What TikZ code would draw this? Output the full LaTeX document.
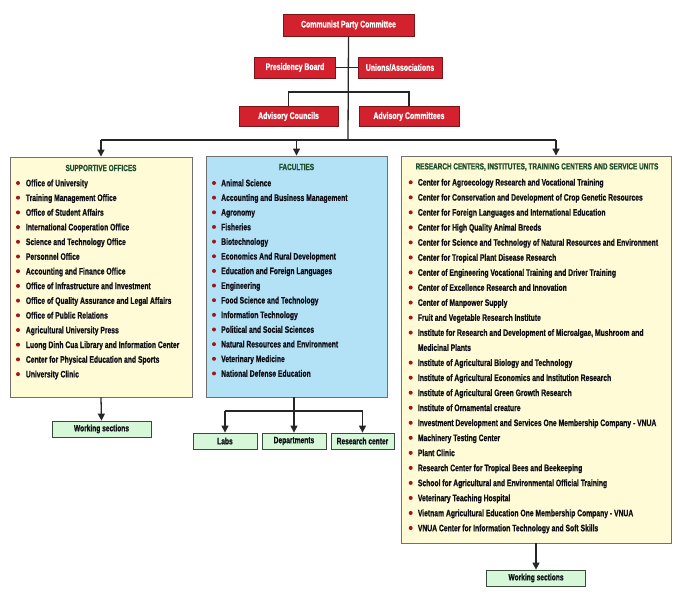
\documentclass[tikz,border=0pt]{standalone}
\usepackage{fontspec}
\setmainfont{Liberation Sans}[FakeStretch=0.72, BoldFeatures={FakeBold=0.8}]
\usetikzlibrary{arrows.meta}
\definecolor{redfill}{HTML}{D3222E}
\definecolor{reddark}{HTML}{7A1418}
\definecolor{greenfill}{HTML}{D6F7D8}
\definecolor{greendark}{HTML}{3A4A3A}
\definecolor{yellowfill}{HTML}{FFFBD6}
\definecolor{bluefill}{HTML}{B3E2F6}
\definecolor{panelline}{HTML}{707070}
\definecolor{titlegreen}{HTML}{1F4F2E}
\definecolor{itemtext}{HTML}{101018}
\definecolor{bulletred}{HTML}{A3141C}
\begin{document}
\begin{tikzpicture}[x=1pt,y=-1pt,
 redbox/.style={draw=reddark, line width=0.8pt, fill=redfill, text=white, font=\bfseries\fontsize{9.6}{11}\selectfont, inner sep=0pt},
 greenbox/.style={draw=greendark, line width=0.8pt, fill=greenfill, text=itemtext, font=\bfseries\fontsize{9.2}{10}\selectfont, inner sep=0pt, minimum height=16pt},
 panel/.style={draw=panelline, line width=0.9pt, inner sep=0pt},
 title/.style={text=titlegreen, font=\bfseries\fontsize{8.9}{10}\selectfont, inner sep=0pt},
 item/.style={anchor=base west, text=itemtext, font=\bfseries\fontsize{9.4}{10}\selectfont, inner sep=0pt},
 conn/.style={line width=1.3pt, draw=black!85},
 arr/.style={conn, -{Triangle[width=7pt,length=7pt]}}]
\useasboundingbox (0,0) rectangle (680,597);
\fill[white] (0,0) rectangle (680,597);

% top red boxes
\node[redbox, minimum width=131pt, minimum height=22pt] (cpc) at (348.5,25) {Communist Party Committee};
\node[redbox, minimum width=81pt, minimum height=21pt] (pb) at (295,67.5) {Presidency Board};
\node[redbox, minimum width=84pt, minimum height=21pt] (ua) at (400,67.5) {Unions/Associations};
\node[redbox, minimum width=99pt, minimum height=20pt] (ac) at (288.5,116.5) {Advisory Councils};
\node[redbox, minimum width=100pt, minimum height=20pt] (acm) at (409,116.5) {Advisory Committees};

% panels
\node[panel, fill=yellowfill, minimum width=182pt, minimum height=240pt] (sup) at (101,277) {};
\node[panel, fill=bluefill, minimum width=181pt, minimum height=241pt] (fac) at (296.5,276.5) {};
\node[panel, fill=yellowfill, minimum width=270pt, minimum height=387pt] (res) at (536,349.5) {};

% bottom green boxes
\node[greenbox, minimum width=99pt] (wsL) at (101.5,429) {Working sections};
\node[greenbox, minimum width=64pt] (labs) at (225,441) {Labs};
\node[greenbox, minimum width=64pt] (dep) at (294,441) {Departments};
\node[greenbox, minimum width=63pt] (rc) at (362.5,441) {Research center};
\node[greenbox, minimum width=99pt] (wsR) at (536,578) {Working sections};

% coordinates
\coordinate (hub) at (348,140);
\coordinate (hubL) at (101,140);
\coordinate (hubM) at (296.5,140);
\coordinate (hubR) at (556,140);
\coordinate (advL) at (288.5,92);
\coordinate (advR) at (409,92);
\coordinate (facB) at (294,411);
\coordinate (facL) at (225,411);
\coordinate (facR) at (362.5,411);

% connectors
\draw[conn] (cpc.south) -- (hub);
\draw[conn] (pb.east) -- (ua.west);
\draw[conn] (ac.north) -- (advL) -- (advR) -- (acm.north);
\draw[conn] (hubL) -- (hubR);
\draw[arr] (hubL) -- (sup.north);
\draw[arr] (hubM) -- (fac.north);
\draw[arr] (hubR) -- (res.north -| hubR);
\draw[arr] (sup.south) -- (wsL.north);
\draw[conn] (fac.south -| facB) -- (facB);
\draw[conn] (facL) -- (facR);
\draw[arr] (facL) -- (labs.north);
\draw[arr] (facB) -- (dep.north);
\draw[arr] (facR) -- (rc.north);
\draw[arr] (res.south) -- (wsR.north);

% titles
\node[title] (supT) at (101,168) {SUPPORTIVE OFFICES};
\node[title] (facT) at (296.5,167) {FACULTIES};
\node[title] (resT) at (537,167) {RESEARCH CENTERS, INSTITUTES, TRAINING CENTERS AND SERVICE UNITS};

% left items
\foreach \t [count=\i from 0] in {Office of University, Training Management Office, Office of Student Affairs, International Cooperation Office, Science and Technology Office, Personnel Office, Accounting and Finance Office, Office of Infrastructure and Investment, Office of Quality Assurance and Legal Affairs, Office of Public Relations, Agricultural University Press, Luong Dinh Cua Library and Information Center, Center for Physical Education and Sports, University Clinic}{
  \node[item] (L\i) at (25.7,{183+14.7*\i+3.3}) {\t};
  \fill[bulletred] (18,{183+14.7*\i}) circle (2);
}
% middle items
\foreach \t [count=\i from 0] in {Animal Science, Accounting and Business Management, Agronomy, Fisheries, Biotechnology, Economics And Rural Development, Education and Foreign Languages, Engineering, Food Science and Technology, Information Technology, Political and Social Sciences, Natural Resources and Environment, Veterinary Medicine, National Defense Education}{
  \node[item] (M\i) at (221,{183+14.65*\i+3.3}) {\t};
  \fill[bulletred] (214,{183+14.65*\i}) circle (2);
}
% right items
\foreach \t [count=\i from 0] in {Center for Agroecology Research and Vocational Training, Center for Conservation and Development of Crop Genetic Resources, Center for Foreign Languages and International Education, Center for High Quality Animal Breeds, Center for Science and Technology of Natural Resources and Environment, Center for Tropical Plant Disease Research, Center of Engineering Vocational Training and Driver Training, Center of Excellence Research and Innovation, Center of Manpower Supply, Fruit and Vegetable Research Institute, {Institute for Research and Development of Microalgae, Mushroom and}, Medicinal Plants, Institute of Agricultural Biology and Technology, Institute of Agricultural Economics and Institution Research, Institute of Agricultural Green Growth Research, Institute of Ornamental creature, Investment Development and Services One Membership Company - VNUA, Machinery Testing Center, Plant Clinic, Research Center for Tropical Bees and Beekeeping, School for Agricultural and Environmental Official Training, Veterinary Teaching Hospital, Vietnam Agricultural Education One Membership Company - VNUA, VNUA Center for Information Technology and Soft Skills}{
  \node[item] (R\i) at (417.7,{182.3+15.03*\i+3.3}) {\t};
  \ifnum\i=11 \else \fill[bulletred] (410.7,{182.3+15.03*\i}) circle (2); \fi
}
\end{tikzpicture}
\end{document}
